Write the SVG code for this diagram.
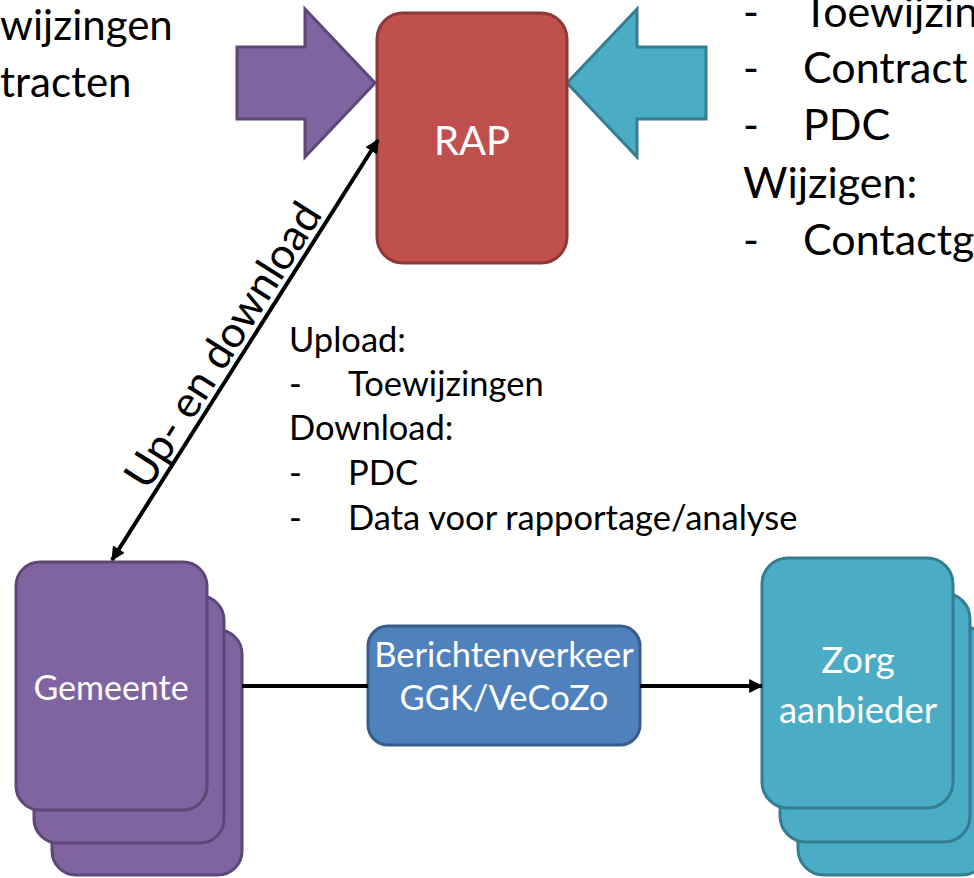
<svg xmlns="http://www.w3.org/2000/svg" width="974" height="878" viewBox="0 0 974 878">
<defs>
<style>
text{font-family:Lato,"Open Sans","Liberation Sans",sans-serif}
.t{fill:#000}
.w{fill:#fff}
.pur{fill:#8064A2;stroke:#5C4776;stroke-width:3}
.teal{fill:#4BACC6;stroke:#357D91;stroke-width:3}
.red{fill:#C0504D;stroke:#8C3836;stroke-width:3}
.blue{fill:#4F81BD;stroke:#385D8A;stroke-width:3}
.con{stroke:#000;stroke-width:4;fill:none}
</style>
<marker id="ah" viewBox="0 0 12 12" refX="11" refY="6" markerWidth="14" markerHeight="14" markerUnits="userSpaceOnUse" orient="auto-start-reverse">
<path d="M0,0 L12,6 L0,12 Z" fill="#000"/>
</marker>
</defs>
<rect width="974" height="878" fill="#fff"/>

<g id="left-text" font-size="42">
<text x="0" y="40" class="t">wijzingen</text>
<text x="0" y="97" class="t">tracten</text>
</g>

<g id="arrow-purple">
<polygon class="pur" points="237,47 305,47 305,9 375,83 305,157 305,119 237,119"/>
</g>
<g id="arrow-teal">
<polygon class="teal" points="706,47 637,47 637,9 567,83 637,157 637,119 706,119"/>
</g>

<g id="rap">
<rect class="red" x="377" y="13" width="190" height="250" rx="26"/>
<text x="472" y="155" class="w" font-size="40" text-anchor="middle">RAP</text>
</g>

<g id="right-text" font-size="43">
<text x="743" y="27" class="t">-</text><text x="803" y="27" class="t">Toewijzin</text>
<text x="743" y="83" class="t">-</text><text x="803" y="83" class="t">Contract</text>
<text x="743" y="140" class="t">-</text><text x="803" y="140" class="t">PDC</text>
<text x="743" y="198" class="t">Wijzigen:</text>
<text x="743" y="255" class="t">-</text><text x="803" y="255" class="t">Contactg</text>
</g>

<g id="middle-text" font-size="34.5">
<text x="289" y="352" class="t">Upload:</text>
<text x="289" y="396" class="t">-</text><text x="348" y="396" class="t">Toewijzingen</text>
<text x="289" y="440" class="t">Download:</text>
<text x="289" y="485" class="t">-</text><text x="348" y="485" class="t">PDC</text>
<text x="289" y="530" class="t">-</text><text x="348" y="530" class="t">Data voor rapportage/analyse</text>
</g>

<g id="gemeente">
<rect class="pur" x="52" y="630" width="190" height="245" rx="24"/>
<rect class="pur" x="34" y="596" width="190" height="247" rx="24"/>
<rect class="pur" x="16" y="562" width="191" height="248" rx="24"/>
<text x="111" y="700" class="w" font-size="34" text-anchor="middle">Gemeente</text>
</g>

<g id="berichtenverkeer">
<rect class="blue" x="368" y="626" width="272" height="119" rx="20"/>
<text x="504" y="667" class="w" font-size="34.5" text-anchor="middle">Berichtenverkeer</text>
<text x="504" y="710" class="w" font-size="34.5" text-anchor="middle">GGK/VeCoZo</text>
</g>

<g id="zorgaanbieder">
<rect class="teal" x="798" y="626" width="190" height="249" rx="26"/>
<rect class="teal" x="780" y="593" width="190" height="249" rx="26"/>
<rect class="teal" x="762" y="558" width="191" height="250" rx="26"/>
<text x="858" y="673" class="w" font-size="36.5" text-anchor="middle">Zorg</text>
<text x="858" y="723" class="w" font-size="36.5" text-anchor="middle">aanbieder</text>
</g>

<g id="connectors">
<line class="con" x1="112" y1="560" x2="378" y2="140" stroke-width="3.5" marker-start="url(#ah)" marker-end="url(#ah)"/>
<line class="con" x1="242" y1="686" x2="368" y2="686"/>
<line class="con" x1="640" y1="686" x2="762" y2="686" marker-end="url(#ah)"/>
<text transform="translate(235.5,353) rotate(-57.65)" class="t" font-size="43.3" text-anchor="middle">Up- en download</text>
</g>
</svg>
